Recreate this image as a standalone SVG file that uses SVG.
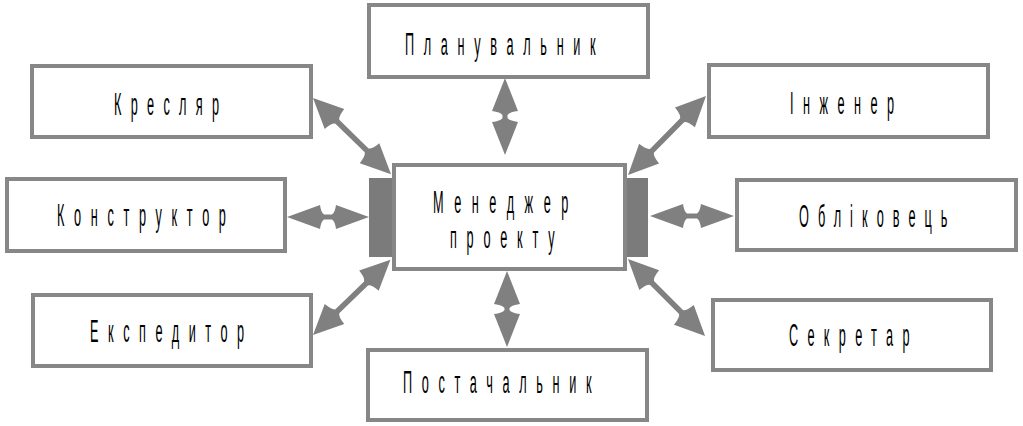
<svg xmlns="http://www.w3.org/2000/svg" width="1023" height="426" viewBox="0 0 1023 426">
<style>
.box{fill:#fff;stroke:#878787;stroke-width:4}
.blk{fill:#7b7b7b}
.arr{fill:#808080}
.t{font-family:"Liberation Sans",Arial,sans-serif;font-size:31px;fill:#000}
</style>
<rect width="1023" height="426" fill="#fff"/>
<g id="connectors">
<path class="arr" transform="translate(505,78) rotate(90)" d="M0,0 L33,-13 Q34,-4.5 37,-2.5 L40,-2.5 Q43,-4.5 44,-13 L77,0 L44,13 Q43,4.5 40,2.5 L37,2.5 Q34,4.5 33,13 Z"/>
<path class="arr" transform="translate(507,271) rotate(90)" d="M0,0 L33,-13 Q34,-4.5 37,-2.5 L39,-2.5 Q42,-4.5 43,-13 L76,0 L43,13 Q42,4.5 39,2.5 L37,2.5 Q34,4.5 33,13 Z"/>
<path class="arr" transform="translate(287,217)" d="M0,0 L33,-12 Q34,-4.5 37,-2.5 L45,-2.5 Q48,-4.5 49,-12 L82,0 L49,12 Q48,4.5 45,2.5 L37,2.5 Q34,4.5 33,12 Z"/>
<path class="arr" transform="translate(650,216)" d="M0,0 L33,-12 Q34,-4.5 37,-2.5 L47,-2.5 Q50,-4.5 51,-12 L84,0 L51,12 Q50,4.5 47,2.5 L37,2.5 Q34,4.5 33,12 Z"/>
<path class="arr" transform="translate(313,98) rotate(44.3)" d="M0,0 L30,-14 Q31,-4.5 34,-2.75 L75,-2.75 Q78,-4.5 79,-14 L109,0 L79,14 Q78,4.5 75,2.75 L34,2.75 Q31,4.5 30,14 Z"/>
<path class="arr" transform="translate(706,96) rotate(134.6)" d="M0,0 L30,-14 Q31,-4.5 34,-2.75 L77,-2.75 Q80,-4.5 81,-14 L111,0 L81,14 Q80,4.5 77,2.75 L34,2.75 Q31,4.5 30,14 Z"/>
<path class="arr" transform="translate(313,335) rotate(-44.2)" d="M0,0 L30,-14 Q31,-4.5 34,-2.75 L74,-2.75 Q77,-4.5 78,-14 L108,0 L78,14 Q77,4.5 74,2.75 L34,2.75 Q31,4.5 30,14 Z"/>
<path class="arr" transform="translate(628,259) rotate(45)" d="M0,0 L30,-14 Q31,-4.5 34,-2.75 L75,-2.75 Q78,-4.5 79,-14 L109,0 L79,14 Q78,4.5 75,2.75 L34,2.75 Q31,4.5 30,14 Z"/>
</g>
<g id="planuvalnyk">
<rect class="box" x="369" y="5" width="279" height="72"/>
<text class="t" transform="translate(405,55) scale(0.41,1)" textLength="465" lengthAdjust="spacing">Планувальник</text>
</g>
<g id="kresliar">
<rect class="box" x="32" y="66" width="279" height="71"/>
<text class="t" transform="translate(114,115) scale(0.41,1)" textLength="256" lengthAdjust="spacing">Кресляр</text>
</g>
<g id="inzhener">
<rect class="box" x="709" y="65" width="279" height="72"/>
<text class="t" transform="translate(790,114) scale(0.41,1)" textLength="254" lengthAdjust="spacing">Інженер</text>
</g>
<g id="konstruktor">
<rect class="box" x="7" y="179" width="278" height="72"/>
<text class="t" transform="translate(57,226) scale(0.41,1)" textLength="412" lengthAdjust="spacing">Конструктор</text>
</g>
<g id="menedzher">
<rect class="blk" x="369" y="178" width="24" height="79"/>
<rect class="blk" x="626" y="178" width="22" height="79"/>
<rect class="box" x="394" y="165" width="231" height="104"/>
<text class="t" transform="translate(433,213) scale(0.41,1)" textLength="330" lengthAdjust="spacing">Менеджер</text>
<text class="t" transform="translate(450,248) scale(0.41,1)" textLength="255" lengthAdjust="spacing">проекту</text>
</g>
<g id="oblikovets">
<rect class="box" x="737" y="180" width="279" height="70"/>
<text class="t" transform="translate(799,227) scale(0.41,1)" textLength="362" lengthAdjust="spacing">Обліковець</text>
</g>
<g id="ekspedytor">
<rect class="box" x="33" y="295" width="278" height="71"/>
<text class="t" transform="translate(90,342) scale(0.41,1)" textLength="376" lengthAdjust="spacing">Експедитор</text>
</g>
<g id="sekretar">
<rect class="box" x="713" y="300" width="278" height="70"/>
<text class="t" transform="translate(789,346) scale(0.41,1)" textLength="294" lengthAdjust="spacing">Секретар</text>
</g>
<g id="postachalnyk">
<rect class="box" x="368" y="350" width="279" height="70"/>
<text class="t" transform="translate(403,393) scale(0.41,1)" textLength="460" lengthAdjust="spacing">Постачальник</text>
</g>
</svg>
